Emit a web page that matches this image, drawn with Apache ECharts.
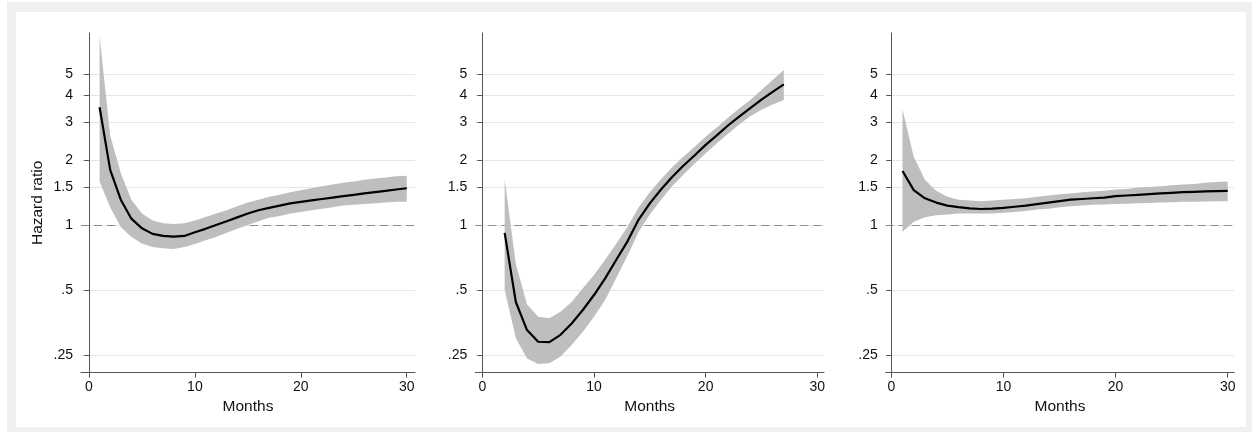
<!DOCTYPE html>
<html><head><meta charset="utf-8">
<script src="https://cdn.jsdelivr.net/npm/echarts@6/dist/echarts.min.js"></script>
<style>html,body{margin:0;padding:0;background:#fff}#c{width:1252px;height:432px}</style>
</head><body><div id="c"></div><script>
// ---- data ----
const months1 = [1,2,3,4,5,6,7,8,9,10,11,12,13,14,15,16,17,18,19,20,21,22,23,24,25,26,27,28,29,30];
const hr1 = [3.51,1.80,1.31,1.07,0.965,0.91,0.89,0.883,0.89,0.925,0.96,1.0,1.04,1.085,1.13,1.17,1.20,1.23,1.26,1.28,1.30,1.32,1.34,1.36,1.38,1.40,1.42,1.44,1.46,1.48];
const hi1 = [7.5,2.6,1.74,1.31,1.13,1.05,1.02,1.01,1.02,1.05,1.09,1.13,1.17,1.22,1.27,1.31,1.35,1.38,1.42,1.45,1.48,1.51,1.54,1.57,1.59,1.62,1.64,1.66,1.68,1.69];
const lo1 = [1.59,1.21,0.98,0.88,0.82,0.79,0.78,0.774,0.79,0.817,0.85,0.88,0.92,0.96,1.00,1.04,1.08,1.10,1.13,1.15,1.17,1.19,1.21,1.23,1.24,1.25,1.26,1.27,1.28,1.28];

const months2 = [2,3,4,5,6,7,8,9,10,11,12,13,14,15,16,17,18,19,20,21,22,23,24,25,26,27];
const hr2 = [0.92,0.44,0.326,0.288,0.287,0.31,0.35,0.404,0.474,0.566,0.69,0.84,1.06,1.26,1.46,1.67,1.88,2.10,2.35,2.60,2.89,3.18,3.48,3.81,4.14,4.48];
const hi2 = [1.63,0.66,0.43,0.376,0.37,0.397,0.44,0.51,0.587,0.69,0.82,0.98,1.21,1.42,1.63,1.85,2.07,2.30,2.56,2.83,3.14,3.46,3.79,4.22,4.70,5.22];
const lo2 = [0.50,0.30,0.241,0.227,0.229,0.246,0.278,0.32,0.376,0.45,0.57,0.72,0.93,1.12,1.31,1.51,1.71,1.92,2.15,2.39,2.65,2.92,3.19,3.42,3.62,3.79];

const months3 = [1,2,3,4,5,6,7,8,9,10,11,12,13,14,15,16,17,18,19,20,21,22,23,24,25,26,27,28,29,30];
const hr3 = [1.78,1.45,1.33,1.27,1.23,1.21,1.195,1.186,1.19,1.20,1.215,1.23,1.25,1.27,1.29,1.31,1.32,1.33,1.34,1.36,1.37,1.38,1.39,1.40,1.41,1.42,1.425,1.43,1.435,1.44];
const hi3 = [3.43,2.07,1.62,1.44,1.35,1.31,1.30,1.29,1.30,1.31,1.32,1.33,1.35,1.37,1.39,1.40,1.42,1.43,1.44,1.46,1.47,1.49,1.50,1.51,1.53,1.54,1.55,1.57,1.58,1.59];
const lo3 = [0.93,1.035,1.085,1.11,1.12,1.13,1.13,1.13,1.13,1.14,1.15,1.16,1.18,1.19,1.21,1.22,1.23,1.24,1.245,1.25,1.255,1.26,1.265,1.27,1.275,1.28,1.28,1.285,1.29,1.29];

const yTicks = [0.25,0.5,1,1.5,2,3,4,5];
const xTicks = [0,10,20,30];
const refValue = 1;
const yTitle = 'Hazard ratio';
const xTitle = 'Months';

// ---- chart ----
const FONT = '"Liberation Sans", Arial, Helvetica, sans-serif';
const AX = '#555555';
const TXT = '#111111';
const grids = [
  {left: 81, top: 33, width: 334, height: 339.7},
  {left: 475.3, top: 33, width: 348.7, height: 339.7},
  {left: 885.7, top: 33, width: 348.6, height: 339.7}
];
const xRanges = [[-0.755, 30.78], [-0.63, 30.6], [-0.5, 30.59]];
const panels = [
  {m: months1, hr: hr1, lo: lo1, hi: hi1},
  {m: months2, hr: hr2, lo: lo2, hi: hi2},
  {m: months3, hr: hr3, lo: lo3, hi: hi3}
];
const fmtY = v => { const s = String(+(+v).toFixed(2)); return s.startsWith('0.') ? s.slice(1) : s; };

const xAxes = grids.map((g, i) => ({
  type: 'value', gridIndex: i, min: xRanges[i][0], max: xRanges[i][1],
  name: xTitle, nameLocation: 'middle', nameGap: 22,
  nameTextStyle: {fontFamily: FONT, fontSize: 15.5, color: TXT},
  axisLine: {show: true, onZero: false, lineStyle: {color: AX, width: 1}},
  axisTick: {show: true, length: 5, lineStyle: {color: AX}, customValues: xTicks},
  axisLabel: {customValues: xTicks, fontFamily: FONT, fontSize: 14, color: TXT, margin: 7},
  splitLine: {show: false}
}));
const yAxes = grids.map((g, i) => ({
  type: 'log', logBase: 2, gridIndex: i, min: 0.207, max: 7.75,
  name: i === 0 ? yTitle : '', nameLocation: 'middle', nameGap: 35, nameRotate: 90,
  nameTextStyle: {fontFamily: FONT, fontSize: 15.5, color: TXT},
  axisLine: {show: true, lineStyle: {color: AX, width: 1}},
  axisTick: {show: true, length: 5, lineStyle: {color: AX}, customValues: yTicks},
  axisLabel: {customValues: yTicks, formatter: fmtY, fontFamily: FONT, fontSize: 14, color: TXT, margin: 8},
  splitLine: {show: true, lineStyle: {color: '#e6e6e6', width: 1}},
  minorTick: {show: false}, minorSplitLine: {show: false}
}));

const series = [];
panels.forEach((p, i) => {
  series.push({
    type: 'line', xAxisIndex: i, yAxisIndex: i, z: 1, silent: true, animation: false,
    data: [], showSymbol: false,
    markLine: {
      silent: true, symbol: 'none', z: 1, animation: false,
      label: {show: false},
      lineStyle: {color: '#8c8c8c', type: [8, 5], width: 1.2},
      data: [{yAxis: refValue}]
    }
  });
  series.push({
    type: 'custom', xAxisIndex: i, yAxisIndex: i, silent: true, animation: false, z: 3,
    data: p.m.map((m, k) => [m, p.lo[k], p.hi[k]]),
    encode: {x: 0, y: [1, 2]},
    renderItem: (params, api) => {
      if (params.dataIndex !== 0) return null;
      const pts = [];
      for (let k = 0; k < p.m.length; k++) pts.push(api.coord([p.m[k], p.hi[k]]));
      for (let k = p.m.length - 1; k >= 0; k--) pts.push(api.coord([p.m[k], p.lo[k]]));
      return {type: 'polygon', shape: {points: pts}, style: {fill: '#bebebe'}, silent: true};
    }
  });
  series.push({
    type: 'line', xAxisIndex: i, yAxisIndex: i, z: 6, silent: true, animation: false,
    data: p.m.map((m, k) => [m, p.hr[k]]),
    showSymbol: false, smooth: false,
    lineStyle: {color: '#000', width: 2.2}
  });
});

const chart = echarts.init(document.getElementById('c'), null, {renderer: 'canvas'});
chart.setOption({
  animation: false,
  backgroundColor: '#ffffff',
  graphic: [
    {type: 'rect', z: -10, silent: true, shape: {x: 7, y: 2, width: 1260, height: 440}, style: {fill: '#efefef'}},
    {type: 'rect', z: -9, silent: true, shape: {x: 16, y: 12, width: 1230, height: 415}, style: {fill: '#ffffff'}}
  ],
  grid: grids.map(g => Object.assign({containLabel: false}, g)),
  xAxis: xAxes,
  yAxis: yAxes,
  series: series
});
</script></body></html>
